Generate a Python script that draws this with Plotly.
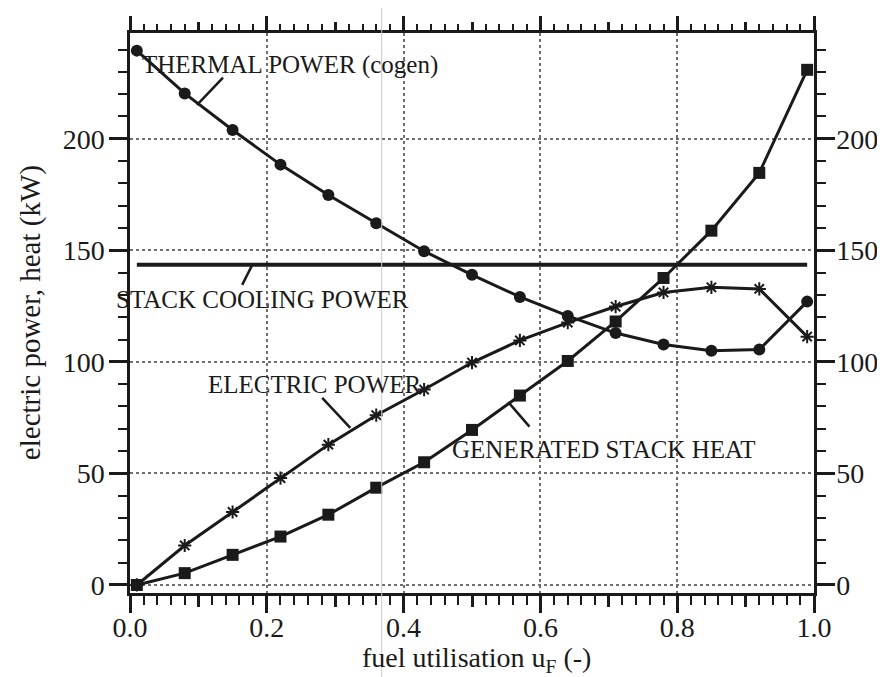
import plotly.graph_objects as go

# fuel utilisation u_F (-)
u_f = [0.01, 0.08, 0.15, 0.22, 0.29, 0.36, 0.43, 0.50,
       0.57, 0.64, 0.71, 0.78, 0.85, 0.92, 0.99]
# kW
thermal_power = [239.5, 220.3, 203.9, 188.4, 174.8, 162.1, 149.6, 139.0,
                 129.1, 120.6, 112.9, 107.8, 105.0, 105.5, 127.0]
electric_power = [0.0, 17.7, 32.7, 47.9, 62.9, 76.1, 87.6, 99.7,
                  109.6, 117.6, 124.8, 131.1, 133.4, 132.7, 111.3]
stack_heat = [0.0, 5.3, 13.5, 21.7, 31.5, 43.6, 55.0, 69.5,
              84.9, 100.4, 118.1, 137.6, 158.8, 184.7, 230.9]
cooling_x = [0.01, 0.99]
cooling_power = [143.5, 143.5]

y_ticks = [0, 50, 100, 150, 200]
x_ticks = [0.0, 0.2, 0.4, 0.6, 0.8, 1.0]
x_mid_ticks = [0.1, 0.3, 0.5, 0.7, 0.9]
x_range = [0.0, 1.0]
y_range = [-3.6, 247.4]

SERIF = "Liberation Serif, Times New Roman, serif"
INK = "#1a1a1a"

fig = go.Figure()
# cooling line sits on the mirrored axes so the top/right frame is drawn
fig.add_trace(go.Scatter(
    x=cooling_x, y=cooling_power, mode="lines", xaxis="x2", yaxis="y2",
    line={"color": INK, "width": 4}, showlegend=False,
))
fig.add_trace(go.Scatter(
    x=u_f, y=thermal_power, mode="lines+markers", xaxis="x4",
    line={"color": INK, "width": 3},
    marker={"symbol": "circle", "size": 12, "color": INK},
    showlegend=False,
))
fig.add_trace(go.Scatter(
    x=u_f, y=electric_power, mode="lines+markers", xaxis="x3",
    line={"color": INK, "width": 3},
    marker={"symbol": "asterisk-open", "size": 11, "color": INK,
            "line": {"color": INK, "width": 2}},
    showlegend=False,
))
fig.add_trace(go.Scatter(
    x=u_f, y=stack_heat, mode="lines+markers",
    line={"color": INK, "width": 3},
    marker={"symbol": "square", "size": 12, "color": INK},
    showlegend=False,
))

# curve labels and their leader ticks
labels = [
    ("THERMAL POWER (cogen)", 0.234, 233.0, (0.136, 227.4, 0.098, 215.2)),
    ("STACK COOLING POWER", 0.194, 127.8, (0.164, 134.5, 0.178, 143.0)),
    ("ELECTRIC POWER", 0.271, 89.7, (0.281, 83.9, 0.322, 70.4)),
    ("GENERATED STACK HEAT", 0.693, 60.5, (0.584, 71.0, 0.553, 82.0)),
]
for text, tx, ty, (x0, y0, x1, y1) in labels:
    fig.add_annotation(x=tx, y=ty, text=text, showarrow=False,
                       font={"family": SERIF, "size": 25, "color": INK})
    fig.add_shape(type="line", x0=x0, y0=y0, x1=x1, y1=y1,
                  line={"color": INK, "width": 2.5})

# faint fold line of the scanned page
fig.add_shape(type="line", xref="paper", yref="paper",
              x0=0.368, x1=0.368, y0=-0.16, y1=1.06,
              line={"color": "#c8c8c8", "width": 1})

fig.add_annotation(xref="paper", yref="paper", x=0.507, y=-0.118,
                   xanchor="center", yanchor="middle",
                   text="fuel utilisation u<sub>F</sub> (-)", showarrow=False,
                   font={"family": SERIF, "size": 28, "color": INK})
fig.add_annotation(xref="paper", yref="paper", x=-0.146, y=0.5, textangle=-90,
                   xanchor="center", yanchor="middle",
                   text="electric power, heat (kW)", showarrow=False,
                   font={"family": SERIF, "size": 29, "color": INK})

tick_font = {"family": SERIF, "size": 28, "color": INK}
grid = {"showgrid": True, "gridcolor": "#6e6e6e", "gridwidth": 1.5, "griddash": "dot"}
minor_x = {"ticks": "outside", "tickwidth": 2, "tickcolor": INK,
           "dtick": 0.02, "tick0": 0, "showgrid": False}
minor_y = {"ticks": "outside", "ticklen": 9, "tickwidth": 2, "tickcolor": INK,
           "dtick": 10, "tick0": 0, "showgrid": False}
bare = {"range": x_range, "overlaying": "x", "showticklabels": False,
        "tickwidth": 2.5, "tickcolor": INK, "ticks": "outside",
        "showgrid": False, "zeroline": False}

fig.update_layout(
    width=885, height=677,
    margin={"l": 122, "r": 79, "t": 25, "b": 92},
    paper_bgcolor="#ffffff", plot_bgcolor="#ffffff",
    xaxis={
        "range": x_range, "tickvals": x_ticks, "ticktext": [f"{v:.1f}" for v in x_ticks],
        "ticks": "outside", "ticklen": 17, "tickwidth": 2.5, "tickcolor": INK,
        "showline": True, "linewidth": 2.5, "linecolor": INK, "zeroline": False,
        "tickfont": tick_font, "ticklabelstandoff": -9,
        "minor": {**minor_x, "ticklen": 9},
        **grid,
    },
    xaxis2={
        **bare, "side": "top", "anchor": "y2", "tickvals": x_ticks, "ticklen": 14,
        "showline": True, "linewidth": 2.5, "linecolor": INK,
        "minor": {**minor_x, "ticklen": 6},
    },
    xaxis3={**bare, "side": "bottom", "anchor": "y", "tickvals": x_mid_ticks,
            "ticklen": 13, "showline": False},
    xaxis4={**bare, "side": "top", "anchor": "y", "tickvals": x_mid_ticks,
            "ticklen": 10, "showline": False},
    yaxis={
        "range": y_range, "tickvals": y_ticks,
        "ticks": "outside", "ticklen": 18, "tickwidth": 2.5, "tickcolor": INK,
        "showline": True, "linewidth": 2.5, "linecolor": INK, "zeroline": False,
        "tickfont": tick_font, "ticklabelstandoff": -1,
        "minor": minor_y,
        **grid,
    },
    yaxis2={
        "range": y_range, "overlaying": "y", "side": "right", "anchor": "x2",
        "tickvals": y_ticks,
        "ticks": "outside", "ticklen": 18, "tickwidth": 2.5, "tickcolor": INK,
        "showline": True, "linewidth": 2.5, "linecolor": INK, "showgrid": False,
        "zeroline": False, "tickfont": tick_font, "ticklabelstandoff": -4,
        "minor": minor_y,
    },
)

fig.write_html("out.html")
